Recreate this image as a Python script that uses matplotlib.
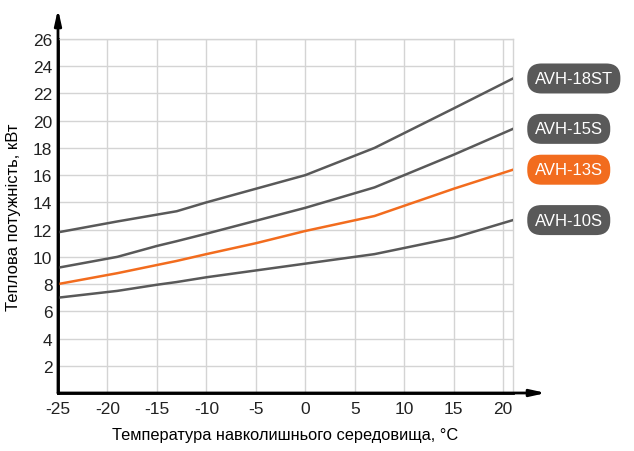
import matplotlib.pyplot as plt

# ---- data ----
temps = [-25, -19, -15, -13, -10, -5, 0, 7, 15, 21]
avh_18st = [11.8, 12.6, 13.1, 13.35, 14.0, 15.0, 16.0, 18.0, 20.9, 23.1]
avh_15s = [9.2, 10.0, 10.8, 11.15, 11.7, 12.65, 13.6, 15.1, 17.5, 19.4]
avh_13s = [8.0, 8.8, 9.4, 9.7, 10.2, 11.0, 11.9, 13.0, 15.0, 16.4]
avh_10s = [7.0, 7.5, 7.95, 8.15, 8.5, 9.0, 9.5, 10.2, 11.4, 12.7]

series_names = ["AVH-18ST", "AVH-15S", "AVH-13S", "AVH-10S"]
x_ticks = [-25, -20, -15, -10, -5, 0, 5, 10, 15, 20]
y_ticks = [2, 4, 6, 8, 10, 12, 14, 16, 18, 20, 22, 24, 26]

GRAY = "#595959"
ORANGE = "#f26c1e"

plt.rcParams["font.family"] = ["Liberation Sans", "DejaVu Sans"]
plt.rcParams["axes.unicode_minus"] = False

fig = plt.figure(figsize=(6.34, 4.52), dpi=100)
ax = fig.add_axes([58 / 634, 1 - 394 / 452, (513 - 58) / 634, (394 - 40) / 452])

series = [avh_18st, avh_15s, avh_13s, avh_10s]
colors = [GRAY, GRAY, ORANGE, GRAY]
for vals, c in zip(series, colors):
    ax.plot(temps, vals, color=c, lw=1.8, zorder=3)

ax.set_xlim(-25, 21)
ax.set_ylim(0, 26)
ax.set_xticks(x_ticks)
ax.set_yticks(y_ticks)
ax.tick_params(length=0, labelsize=12.5, colors="#222222")
ax.tick_params(axis="y", pad=4)
ax.tick_params(axis="x", pad=6)

# grid
ax.grid(True, color="#d4d4d4", lw=1)
ax.set_axisbelow(True)
for s in ["top", "right"]:
    ax.spines[s].set_color("#d4d4d4")
    ax.spines[s].set_linewidth(1)
for s in ["left", "bottom"]:
    ax.spines[s].set_color("black")
    ax.spines[s].set_linewidth(2)

# axis arrows
ax.annotate("", xy=(58, 452 - 10), xytext=(58, 452 - 394), xycoords="figure pixels",
            arrowprops=dict(arrowstyle="-|>,head_length=0.9,head_width=0.2",
                            color="black", lw=2, shrinkA=0, shrinkB=0))
ax.annotate("", xy=(546, 452 - 394), xytext=(58, 452 - 394), xycoords="figure pixels",
            arrowprops=dict(arrowstyle="-|>,head_length=0.9,head_width=0.2",
                            color="black", lw=2, shrinkA=0, shrinkB=0))

ax.set_xlabel("Температура навколишнього середовища, °C", fontsize=11.8, labelpad=8)
ax.set_ylabel("Теплова потужність, кВт", fontsize=12, labelpad=9)

# badges at line ends
for name, vals, c in zip(series_names, series, colors):
    ax.text(23.2, vals[-1], name, color="white", fontsize=12,
            ha="left", va="center", clip_on=False,
            bbox=dict(boxstyle="round,pad=0.45,rounding_size=0.85", fc=c, ec="none"))

fig.savefig("out.png", dpi=100)
